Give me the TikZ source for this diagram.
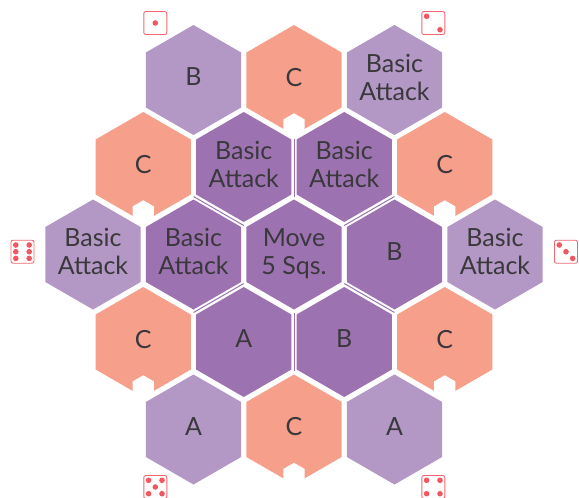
\documentclass[tikz,border=0pt]{standalone}
\usepackage{fontspec}
\setmainfont{Lato}
\usepackage{xcolor}
\usetikzlibrary{calc}
\usetikzlibrary{shapes}
\definecolor{lightcell}{HTML}{B397C5}
\definecolor{darkcell}{HTML}{9D72B1}
\definecolor{salmoncell}{HTML}{F6A08B}
\definecolor{celltext}{HTML}{3A383C}
\definecolor{dicered}{HTML}{F2575F}
\tikzset{
  hexcell/.style={regular polygon, regular polygon sides=6, shape border rotate=30,
    minimum size=110pt, inner sep=0pt, outer sep=0pt},
  lightcell/.style={hexcell, fill=lightcell},
  darkcell/.style={hexcell, fill=darkcell},
  salmoncell/.style={hexcell, fill=salmoncell},
  notchcell/.style={regular polygon, regular polygon sides=6, shape border rotate=30,
    minimum size=24.4pt, inner sep=0pt, outer sep=0pt, fill=white},
  celllabel/.style={label={[text=celltext, font=\fontsize{25}{28}\selectfont, align=center,
    text depth=0pt, inner sep=0pt, yshift=3pt]center:#1}},
  dicebox/.style={draw=dicered!90!white, line width=.9pt, rounded corners=2pt,
    minimum size=23pt, inner sep=0pt},
  spoke/.style={draw=darkcell, line width=1pt},
  pip/.style={fill=dicered}
}
\begin{document}
\begin{tikzpicture}[x=1pt,y=-1pt]
\useasboundingbox (0,0) rectangle (579,498);
% outer ring
\node [lightcell, celllabel={B}] (top1) at (193.5,80) {};
\node [salmoncell, celllabel={C}] (top2) at (294,80) {};
\node [lightcell, celllabel={Basic\\Attack}] (top3) at (394.5,80) {};
\node [salmoncell, celllabel={C}] (upl) at (143.25,167) {};
\node [salmoncell, celllabel={C}] (upr) at (444.75,167) {};
\node [lightcell, celllabel={Basic\\Attack}] (midl) at (93,254.5) {};
\node [lightcell, celllabel={Basic\\Attack}] (midr) at (495,254.5) {};
\node [salmoncell, celllabel={C}] (lowl) at (143.25,342) {};
\node [salmoncell, celllabel={C}] (lowr) at (444.75,342) {};
\node [lightcell, celllabel={A}] (bot1) at (193.5,429.5) {};
\node [salmoncell, celllabel={C}] (bot2) at (294,429.5) {};
\node [lightcell, celllabel={A}] (bot3) at (394.5,429.5) {};
% notches
\node [notchcell] (ntop) at ([yshift=-45.5pt]top2.center) {};
\node [notchcell] (nupl) at ([yshift=-45.5pt]upl.center) {};
\node [notchcell] (nupr) at ([yshift=-45.5pt]upr.center) {};
\node [notchcell] (nlowl) at ([yshift=-45.5pt]lowl.center) {};
\node [notchcell] (nlowr) at ([yshift=-45.5pt]lowr.center) {};
\node [notchcell] (nbot) at ([yshift=-45.5pt]bot2.center) {};
% inner ring
\node [darkcell, celllabel={Basic\\Attack}] (in1) at (243.75,167) {};
\node [darkcell, celllabel={Basic\\Attack}] (in2) at (344.25,167) {};
\node [darkcell, celllabel={Basic\\Attack}] (in3) at (193.5,254.5) {};
\node [darkcell, celllabel={Move\\5 Sqs.}] (move) at (294,254.5) {};
\node [darkcell, celllabel={B}] (in4) at (394.5,254.5) {};
\node [darkcell, celllabel={A}] (in5) at (243.75,342) {};
\node [darkcell, celllabel={B}] (in6) at (344.25,342) {};
% lines between the inner cells
\foreach \a in {30,90,...,330} {
  \coordinate (sa\a) at ($(move.center)+(\a:58)$);
  \coordinate (sb\a) at ($(move.center)+(\a:116)$);
  \draw [spoke] (sa\a) -- (sb\a);
}
% dice
\node [dicebox] (die1) at (155.3,23) {};
\node [dicebox] (die2) at (433.3,23) {};
\node [dicebox] (die3) at (566,251.7) {};
\node [dicebox] (die4) at (433.3,487) {};
\node [dicebox] (die5) at (155.3,487) {};
\node [dicebox] (die6) at (22.5,251.7) {};
\fill [pip] (die1.center) circle (2.8);
\foreach \x/\y in {-6.7/-6.7,6.7/6.7}
  \fill [pip] ($(die2.center)+(\x,\y)$) circle (2.8);
\foreach \x/\y in {-6.7/-6.7,0/0,6.7/6.7}
  \fill [pip] ($(die3.center)+(\x,\y)$) circle (2.8);
\foreach \x/\y in {-6.7/-6.7,6.7/-6.7,-6.7/6.7,6.7/6.7}
  \fill [pip] ($(die4.center)+(\x,\y)$) circle (2.8);
\foreach \x/\y in {-6.7/-6.7,6.7/-6.7,0/0,-6.7/6.7,6.7/6.7}
  \fill [pip] ($(die5.center)+(\x,\y)$) circle (2.8);
\foreach \x/\y in {-6.7/-6.7,6.7/-6.7,-6.7/0,6.7/0,-6.7/6.7,6.7/6.7}
  \fill [pip] ($(die6.center)+(\x,\y)$) circle (2.8);
\end{tikzpicture}
\end{document}
